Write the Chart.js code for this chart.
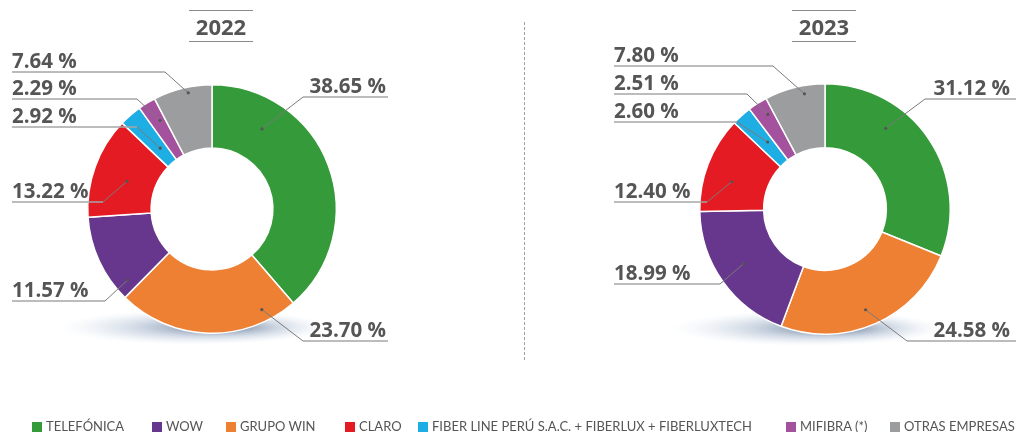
<!DOCTYPE html>
<html>
<head>
    <meta charset="utf-8">
    <title>Participación de mercado 2022 - 2023</title>
    <script src="https://cdn.jsdelivr.net/npm/chart.js"></script>
    <style>
        body {
            margin: 0;
            width: 1016px;
            height: 432px;
            background: #fff;
            font-family: Lato, "Open Sans", sans-serif;
            position: relative;
            overflow: hidden;
        }
        canvas {
            position: absolute;
            left: 0;
            top: 0;
        }
        .title {
            position: absolute;
            top: 10px;
            width: 64px;
            height: 30px;
            border-top: 1.5px solid #8a8a8a;
            border-bottom: 1.5px solid #8a8a8a;
            font: bold 22px "Open Sans", sans-serif;
            color: #555;
            text-align: center;
            line-height: 30px;
        }
        #divider {
            position: absolute;
            left: 524px;
            top: 22px;
            height: 338px;
            border-left: 1px dashed #a0a0a0;
        }
        .legend-item {
            position: absolute;
            top: 418px;
            font-size: 13px;
            color: #555;
            white-space: nowrap;
        }
        .legend-item span.box {
            display: inline-block;
            width: 10px;
            height: 10px;
            margin-right: 4px;
            vertical-align: -1px;
        }
    </style>
</head>
<body>
    <canvas id="chart2022" width="1016" height="432"></canvas>
    <canvas id="chart2023" width="1016" height="432"></canvas>
    <div class="title" style="left:189px">2022</div>
    <div class="title" style="left:792px">2023</div>
    <div id="divider"></div>

    <script>
        // data, in clockwise order from the top of each ring
        const companies = ['TELEFÓNICA', 'GRUPO WIN', 'WOW', 'CLARO',
            'FIBER LINE PERÚ S.A.C. + FIBERLUX + FIBERLUXTECH', 'MIFIBRA (*)', 'OTRAS EMPRESAS'];
        const colors = ['#359a3a', '#ee8033', '#66378c', '#e41b22', '#1eaee4', '#a5529e', '#9b9d9e'];
        const share2022 = [38.65, 23.70, 11.57, 13.22, 2.92, 2.29, 7.64];
        const share2023 = [31.12, 24.58, 18.99, 12.40, 2.60, 2.51, 7.80];
        const legendOrder = [0, 2, 1, 3, 4, 5, 6];
        const legendLeft = [32, 152, 226, 345, 418, 786, 890];

        // label placement: side, underline y, elbow x, angle fraction in slice, radius fraction in ring
        const labels2022 = [
            ['R', 97, 303, 0.23, 0.53],
            ['R', 341, 303, 0.17, 0.81],
            ['L', 301, 105, 0.13, 0.78],
            ['L', 202, 103, 0.46, 0.45],
            ['L', 127, 137, 0.56, 0.30],
            ['L', 99, 137, 0.66, 0.66],
            ['L', 72, 165, 0.58, 0.91]
        ];
        const labels2023 = [
            ['R', 99, 925, 0.33, 0.62],
            ['R', 341, 907, 0.52, 0.74],
            ['L', 284, 720, 0.52, 0.58],
            ['L', 202, 707, 0.39, 0.56],
            ['L', 122, 737, 0.63, 0.42],
            ['L', 94, 747, 0.66, 0.77],
            ['L', 66, 773, 0.64, 0.87]
        ];

        const leaderPlugin = {
            id: 'leaders',
            beforeDatasetsDraw(chart) {
                // soft shadow under the ring
                const arc = chart.getDatasetMeta(0).data[0];
                const ctx = chart.ctx;
                const cx = arc.x - 18, cy = arc.y + arc.outerRadius - 6;
                ctx.save();
                ctx.translate(cx, cy);
                ctx.scale(1, 0.13);
                const g = ctx.createRadialGradient(30, 0, 0, 0, 0, 135);
                g.addColorStop(0, 'rgba(35,60,95,0.7)');
                g.addColorStop(0.5, 'rgba(90,120,160,0.3)');
                g.addColorStop(1, 'rgba(180,200,225,0)');
                ctx.fillStyle = g;
                ctx.beginPath();
                ctx.arc(0, 0, 135, 0, Math.PI * 2);
                ctx.fill();
                ctx.restore();
            },
            afterDraw(chart, args, opts) {
                const ctx = chart.ctx;
                const meta = chart.getDatasetMeta(0);
                const values = chart.data.datasets[0].data;
                ctx.save();
                meta.data.forEach((el, i) => {
                    const [side, ly, ex, t, rf] = opts.layout[i];
                    const a = el.startAngle + t * (el.endAngle - el.startAngle);
                    const r = el.innerRadius + rf * (el.outerRadius - el.innerRadius);
                    const dx = el.x + Math.cos(a) * r;
                    const dy = el.y + Math.sin(a) * r;
                    const text = values[i].toFixed(2) + ' %';
                    ctx.strokeStyle = '#7a7a7a';
                    ctx.lineWidth = 1;
                    ctx.lineJoin = 'round';
                    ctx.beginPath();
                    ctx.moveTo(dx, dy);
                    ctx.lineTo(ex, ly);
                    ctx.stroke();
                    ctx.strokeStyle = '#a6a6a6';
                    ctx.lineWidth = 1.5;
                    ctx.beginPath();
                    ctx.moveTo(ex, ly);
                    ctx.lineTo(side === 'L' ? opts.leftX : opts.rightEnd, ly);
                    ctx.stroke();
                    ctx.fillStyle = '#555';
                    ctx.beginPath();
                    ctx.arc(dx, dy, 1.6, 0, Math.PI * 2);
                    ctx.fill();
                    ctx.font = 'bold 20.5px "Open Sans", sans-serif';
                    ctx.textBaseline = 'alphabetic';
                    if (side === 'L') {
                        ctx.textAlign = 'left';
                        ctx.fillText(text, opts.leftX, ly - 4);
                    } else {
                        ctx.textAlign = 'right';
                        ctx.fillText(text, opts.rightX, ly - 4);
                    }
                });
                ctx.restore();
            }
        };

        function makeDonut(id, values, layout, padding, leftX, rightX, rightEnd) {
            return new Chart(document.getElementById(id), {
                type: 'doughnut',
                data: {
                    labels: companies,
                    datasets: [{
                        data: values,
                        backgroundColor: colors,
                        borderColor: '#ffffff',
                        borderWidth: 1.5
                    }]
                },
                options: {
                    responsive: false,
                    animation: false,
                    cutout: '49%',
                    layout: { padding: padding },
                    plugins: {
                        legend: { display: false },
                        tooltip: { enabled: false },
                        leaders: { layout: layout, leftX: leftX, rightX: rightX, rightEnd: rightEnd }
                    }
                },
                plugins: [leaderPlugin]
            });
        }

        makeDonut('chart2022', share2022, labels2022,
            { left: 87, right: 679, top: 84, bottom: 98 }, 12, 386, 388);
        makeDonut('chart2023', share2023, labels2023,
            { left: 699, right: 65, top: 83, bottom: 97 }, 614, 1010, 1016);

        legendOrder.forEach((i, k) => {
            const item = document.createElement('div');
            item.className = 'legend-item';
            item.style.left = legendLeft[k] + 'px';
            item.innerHTML = '<span class="box" style="background:' + colors[i] + '"></span>' + companies[i];
            document.body.appendChild(item);
        });
    </script>
</body>
</html>
